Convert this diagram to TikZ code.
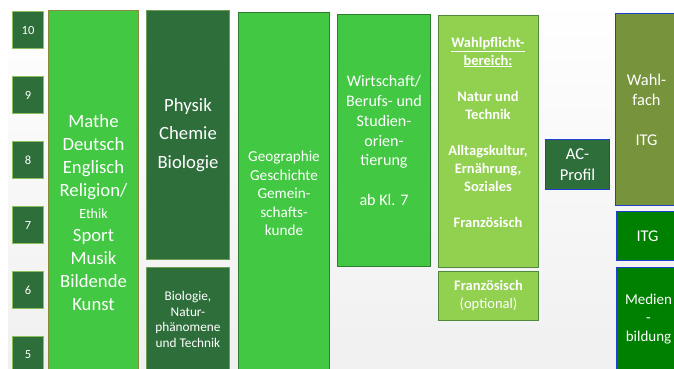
\documentclass[tikz,border=0pt]{standalone}
\usepackage{fontspec}
\setmainfont{Carlito}
\definecolor{gradefill}{HTML}{2E6E3B}
\definecolor{gradeline}{HTML}{8CBF5A}
\definecolor{brightg}{HTML}{42C842}
\definecolor{matheline}{HTML}{8A8A3A}
\definecolor{geoline}{HTML}{2E7D32}
\definecolor{lightg}{HTML}{92D050}
\definecolor{lightline}{HTML}{4F8A3C}
\definecolor{oliveg}{HTML}{77933C}
\definecolor{itgg}{HTML}{008000}
\definecolor{blueline}{HTML}{1F3FD0}
\definecolor{darkline}{HTML}{6E9E55}
\newcommand{\fs}[2]{\fontsize{#1}{#2}\selectfont}
\begin{document}
\begin{tikzpicture}[x=1pt,y=-1pt,
  box/.style={draw, line width=1pt, text=white, align=center, inner sep=0pt, anchor=north west},
  gradebox/.style={box, fill=gradefill, draw=gradeline, minimum width=31pt, minimum height=37pt, font=\fs{12.5}{15}},
  brightbox/.style={box, fill=brightg, draw=geoline},
  darkbox/.style={box, fill=gradefill, draw=darkline},
  lightbox/.style={box, fill=lightg, draw=lightline},
  bluebox/.style={box, draw=blueline},
  txt/.style={text=white, align=center, inner sep=0pt}]
\useasboundingbox (0,0) rectangle (674,369);
\fill[white] (0,0) rectangle (674,369);
\shade[top color=white, bottom color=black!6] (8,0) rectangle (674,369);
% grades
\node[gradebox] (g10) at (12,11) {10};
\node[gradebox] (g9) at (12,76) {9};
\node[gradebox] (g8) at (12,141) {8};
\node[gradebox] (g7) at (12,206) {7};
\node[gradebox] (g6) at (12,271) {6};
\node[gradebox] (g5) at (12,336) {5};
% columns
\node[brightbox, draw=matheline, minimum width=90pt, minimum height=404pt, font=\fs{18.7}{22.8}] (mathe) at (48,10)
  {Mathe\\Deutsch\\Englisch\\Religion/\\{\fs{14}{22.8}Ethik}\\Sport\\Musik\\Bildende\\Kunst};
\node[darkbox, minimum width=83pt, minimum height=249pt, font=\fs{18.7}{28.5}] (physik) at (146,10)
  {Physik\\Chemie\\Biologie};
\node[darkbox, minimum width=83pt, minimum height=104pt, font=\fs{13.3}{15.5}] (biont) at (146,267)
  {Biologie,\\Natur-\\phänomene\\und Technik};
\node[brightbox, minimum width=91pt, minimum height=362pt, font=\fs{15.2}{18.5}] (geo) at (238,12)
  {Geographie\\Geschichte\\Gemein-\\schafts-\\kunde};
\node[brightbox, minimum width=93pt, minimum height=252pt, font=\fs{16.1}{19.7}] (wirt) at (337,14)
  {Wirtschaft/\\Berufs- und\\Studien-\\orien-\\tierung\\[19.7pt]ab Kl. 7};
\node[lightbox, minimum width=100pt, minimum height=252pt] (wpb) at (438,15) {};
\node[txt, font=\bfseries\fs{14.5}{18}] (wpbtext) at (488,132)
  {\underline{Wahlpflicht-}\\\underline{bereich:}\\[18pt]Natur und\\Technik\\[18pt]Alltagskultur,\\Ernährung,\\Soziales\\[18pt]Französisch};
\node[lightbox, minimum width=100pt, minimum height=49pt, font=\fs{14.5}{18}] (franz) at (438,271)
  {\textbf{Französisch}\\(optional)};
\node[bluebox, fill=gradefill, minimum width=64pt, minimum height=50pt, font=\fs{16.6}{21}] (ac) at (545,139)
  {AC-\\Profil};
\node[bluebox, fill=oliveg, minimum width=62pt, minimum height=192pt, font=\fs{16.4}{20}] (wahlfach) at (615,13)
  {Wahl-\\fach\\[20pt]ITG};
\node[bluebox, fill=itgg, minimum width=62pt, minimum height=49pt, font=\fs{16.4}{20}] (itg) at (616,211)
  {ITG};
\node[bluebox, fill=itgg, minimum width=64pt, minimum height=103pt, font=\fs{15}{18.5}] (medien) at (616,267)
  {Medien\\-\\bildung};
\end{tikzpicture}
\end{document}
